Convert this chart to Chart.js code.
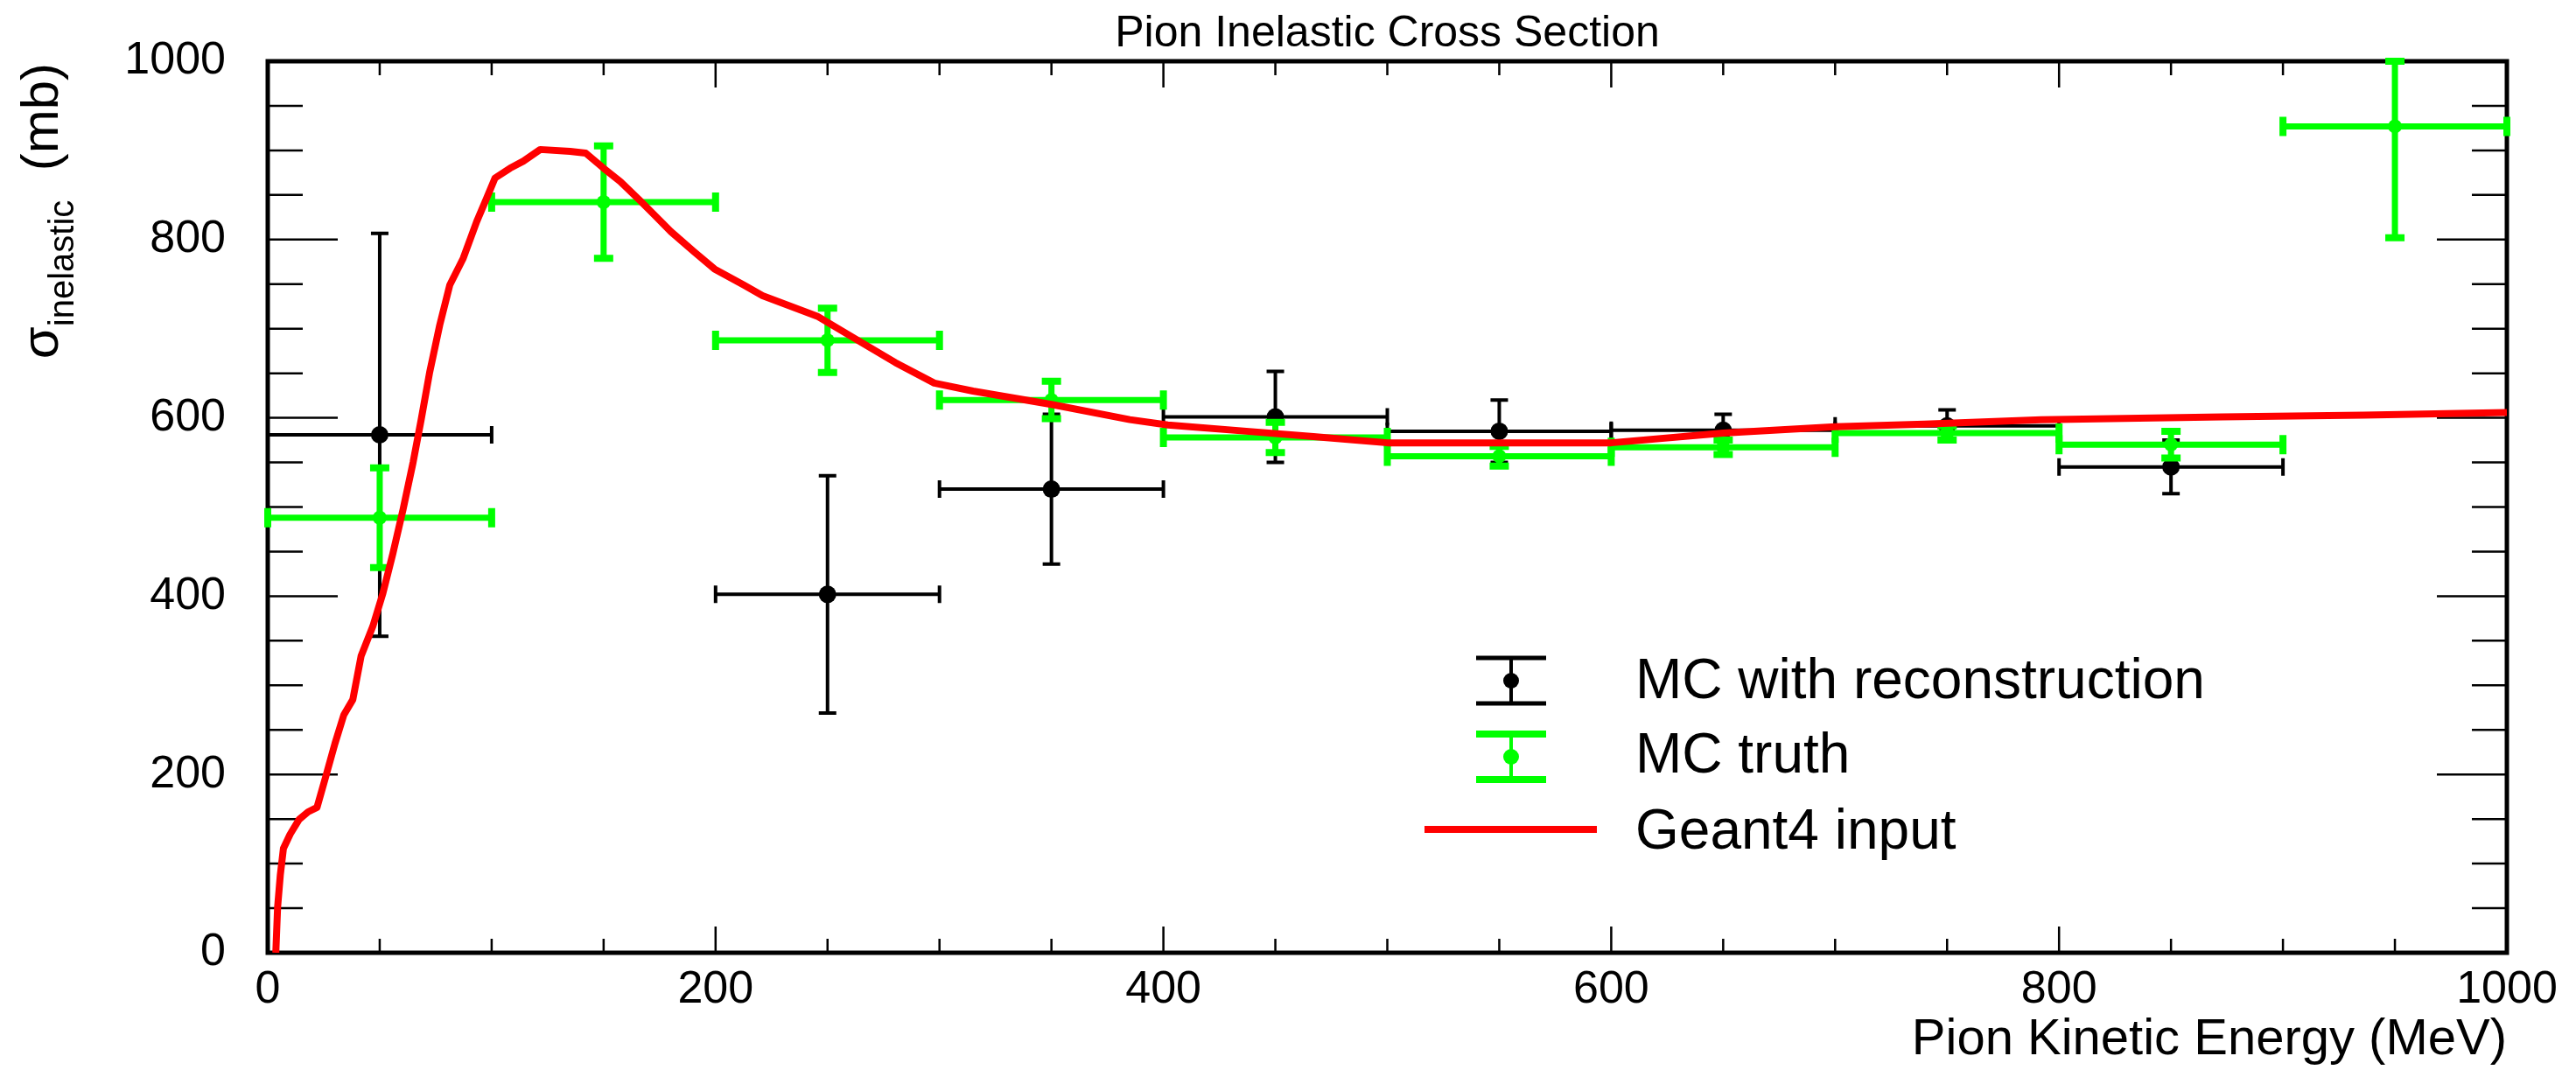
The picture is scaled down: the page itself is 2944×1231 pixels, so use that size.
<!DOCTYPE html>
<html><head><meta charset="utf-8">
<script src="https://cdn.jsdelivr.net/npm/chart.js@4.4.1/dist/chart.umd.min.js"></script>
<style>html,body{margin:0;padding:0;background:#fff;overflow:hidden;} #wrap{width:2944px;height:1231px;}</style>
</head><body><div id="wrap"><canvas id="c" width="2944" height="1231"></canvas></div>
<script>
// ---------- data ----------
const binCenters = [50, 150, 250, 350, 450, 550, 650, 750, 850, 950];
const binHalfWidths = [50, 50, 50, 50, 50, 50, 50, 50, 50, 50];
const recoValues = [581, null, 402, 520, 601, 585, 586, 591, 545, null];
const recoErrors = [226, null, 133, 84, 51, 35, 18, 18, 30, null];
const truthValues = [488, 842, 687, 620, 578, 557, 567, 583, 570, 927];
const truthErrors = [56, 63, 36, 21, 17, 11, 8, 8, 15, 125];
const geantEnergy = [3.6, 4.4, 5.6, 7, 10, 14, 18, 22, 26, 30, 34, 38, 41.7, 46.9, 51.4, 55.9, 60.4, 64.9, 68.6, 72.3, 76.8, 81.3, 87.3, 93.3, 97.7, 101.5, 108.2, 114.2, 121.7, 135, 142, 150, 157.5, 166.5, 172.5, 180, 190.5, 199.5, 212.6, 221, 245.4, 262.8, 280.3, 297.7, 315, 350, 385, 402, 437, 467, 500, 600, 650, 700, 740, 792, 873, 936, 1000];
const geantXsec = [0, 51, 87, 117, 133, 149.5, 158, 163, 198.5, 234.5, 267, 284, 333, 366, 403, 448, 497, 550, 599, 651, 704, 749, 779, 820, 846, 869, 880, 888, 901, 899, 897, 880, 865, 843, 828, 809, 786, 767, 749, 737, 714, 688, 662, 639, 630, 615, 598, 592, 585, 579, 572, 572, 583, 590, 593, 598, 601, 603, 606];
const xTickLabels = [0, 200, 400, 600, 800, 1000];
const yTickLabels = [0, 200, 400, 600, 800, 1000];
const titleText = "Pion Inelastic Cross Section";
const xTitleText = "Pion Kinetic Energy (MeV)";
const seriesNames = ["Geant4 input", "MC truth", "MC with reconstruction"];

const FONT = "'Liberation Sans', Arial, Helvetica, sans-serif";
const GREEN = '#00ff00', RED = '#ff0000', BLACK = '#000000';

const errorSets = {
  1: {vals: truthValues, errs: truthErrors, color: GREEN, lw: 7, cap: 11, capLw: 8},
  2: {vals: recoValues, errs: recoErrors, color: BLACK, lw: 4, cap: 10, capLw: 4}
};

function drawErrors(chart, set) {
  const ctx = chart.ctx, xs = chart.scales.x, ys = chart.scales.y;
  ctx.save();
  ctx.strokeStyle = set.color;
  ctx.lineCap = 'butt';
  for (let i = 0; i < binCenters.length; i++) {
    const v = set.vals[i];
    if (v === null) continue;
    const e = set.errs[i];
    const px = xs.getPixelForValue(binCenters[i]);
    const py = ys.getPixelForValue(v);
    const pl = xs.getPixelForValue(Math.max(binCenters[i] - binHalfWidths[i], xs.min));
    const pr = xs.getPixelForValue(Math.min(binCenters[i] + binHalfWidths[i], xs.max));
    const pt = ys.getPixelForValue(Math.min(v + e, ys.max));
    const pb = ys.getPixelForValue(Math.max(v - e, ys.min));
    ctx.lineWidth = set.lw;
    ctx.beginPath();
    ctx.moveTo(pl, py); ctx.lineTo(pr, py);
    ctx.moveTo(px, pt); ctx.lineTo(px, pb);
    ctx.stroke();
    ctx.lineWidth = set.capLw;
    ctx.beginPath();
    ctx.moveTo(pl, py - set.cap); ctx.lineTo(pl, py + set.cap);
    ctx.moveTo(pr, py - set.cap); ctx.lineTo(pr, py + set.cap);
    ctx.moveTo(px - set.cap, pt); ctx.lineTo(px + set.cap, pt);
    ctx.moveTo(px - set.cap, pb); ctx.lineTo(px + set.cap, pb);
    ctx.stroke();
  }
  ctx.restore();
}

const rootPlugin = {
  id: 'rootStyle',
  beforeDatasetsDraw(chart) {
    const ctx = chart.ctx, ca = chart.chartArea, xs = chart.scales.x, ys = chart.scales.y;
    ctx.save();
    ctx.strokeStyle = BLACK;
    ctx.lineWidth = 2.5;
    ctx.beginPath();
    for (let v = xs.min; v <= xs.max + 0.001; v += 50) {
      const p = xs.getPixelForValue(v);
      const len = (Math.round(v) % 200 === 0) ? 30 : 16;
      ctx.moveTo(p, ca.bottom); ctx.lineTo(p, ca.bottom - len);
      ctx.moveTo(p, ca.top); ctx.lineTo(p, ca.top + len);
    }
    for (let v = ys.min; v <= ys.max + 0.001; v += 50) {
      const p = ys.getPixelForValue(v);
      const len = (Math.round(v) % 200 === 0) ? 80 : 40;
      ctx.moveTo(ca.left, p); ctx.lineTo(ca.left + len, p);
      ctx.moveTo(ca.right, p); ctx.lineTo(ca.right - len, p);
    }
    ctx.stroke();
    ctx.lineWidth = 5;
    ctx.strokeRect(ca.left, ca.top, ca.right - ca.left, ca.bottom - ca.top);
    ctx.restore();
  },
  beforeDatasetDraw(chart, args) {
    const set = errorSets[args.index];
    if (set) drawErrors(chart, set);
  },
  afterDraw(chart) {
    const ctx = chart.ctx, ca = chart.chartArea;
    ctx.save();
    ctx.fillStyle = BLACK;
    ctx.font = `50px ${FONT}`;
    ctx.textAlign = 'center';
    ctx.textBaseline = 'alphabetic';
    ctx.fillText(titleText, (ca.left + ca.right) / 2, 53);
    ctx.font = `58px ${FONT}`;
    ctx.textAlign = 'right';
    ctx.fillText(xTitleText, ca.right, 1205);
    ctx.save();
    ctx.translate(66, ca.top + 2);
    ctx.rotate(-Math.PI / 2);
    ctx.textAlign = 'left';
    const mainF = `60px ${FONT}`, subF = `40px ${FONT}`;
    ctx.font = mainF; const wS = ctx.measureText('σ').width;
    ctx.font = subF; const wSub = ctx.measureText('inelastic').width;
    ctx.font = mainF; const wR = ctx.measureText('  (mb)').width;
    let x0 = -(wS + wSub + wR);
    ctx.font = mainF; ctx.fillText('σ', x0, 0);
    ctx.font = subF; ctx.fillText('inelastic', x0 + wS, 18);
    ctx.font = mainF; ctx.fillText('  (mb)', x0 + wS + wSub, 0);
    ctx.restore();
    const ds = chart.data.datasets;
    const rows = [
      {d: ds[2], set: errorSets[2], cy: 778, base: 798, r: 9, capY: [752, 804]},
      {d: ds[1], set: errorSets[1], cy: 865, base: 883, r: 9, capY: [839, 891]},
      {d: ds[0], line: true, cy: 948, base: 970}
    ];
    const sx = 1727;
    rows.forEach(row => {
      if (row.line) {
        ctx.strokeStyle = RED; ctx.lineWidth = 8;
        ctx.beginPath(); ctx.moveTo(1628, row.cy); ctx.lineTo(1825, row.cy); ctx.stroke();
      } else {
        ctx.strokeStyle = row.set.color; ctx.fillStyle = row.set.color;
        ctx.lineWidth = 4;
        ctx.beginPath(); ctx.moveTo(sx, row.capY[0]); ctx.lineTo(sx, row.capY[1]); ctx.stroke();
        ctx.lineWidth = row.set.capLw === 8 ? 8 : 5;
        ctx.beginPath();
        ctx.moveTo(sx - 40, row.capY[0]); ctx.lineTo(sx + 40, row.capY[0]);
        ctx.moveTo(sx - 40, row.capY[1]); ctx.lineTo(sx + 40, row.capY[1]);
        ctx.stroke();
        ctx.beginPath(); ctx.arc(sx, row.cy, row.r, 0, Math.PI * 2); ctx.fill();
      }
      ctx.fillStyle = BLACK;
      ctx.font = `64px ${FONT}`;
      ctx.textAlign = 'left';
      ctx.fillText(row.d.label, 1869, row.base);
    });
    ctx.restore();
  }
};

const geantData = geantEnergy.map((x, i) => ({x: x, y: geantXsec[i]}));
const truthData = binCenters.map((x, i) => ({x: x, y: truthValues[i]})).filter(p => p.y !== null);
const recoData = binCenters.map((x, i) => ({x: x, y: recoValues[i]})).filter(p => p.y !== null);

function zeroPad(s) { s.paddingTop = 0; s.paddingBottom = 0; s.paddingLeft = 0; s.paddingRight = 0; }

new Chart(document.getElementById('c'), {
  type: 'scatter',
  data: {
    datasets: [
      {label: seriesNames[0], data: geantData, showLine: true, borderColor: RED, backgroundColor: RED, borderWidth: 8, pointRadius: 0, tension: 0, borderJoinStyle: 'round', clip: 0},
      {label: seriesNames[1], data: truthData, showLine: false, pointRadius: 8, pointStyle: 'circle', backgroundColor: GREEN, borderColor: GREEN, borderWidth: 0},
      {label: seriesNames[2], data: recoData, showLine: false, pointRadius: 10, pointStyle: 'circle', backgroundColor: BLACK, borderColor: BLACK, borderWidth: 0}
    ]
  },
  options: {
    responsive: false,
    animation: false,
    devicePixelRatio: 1,
    layout: {padding: {left: 0, right: 79, top: 70, bottom: 0}},
    plugins: {legend: {display: false}, tooltip: {enabled: false}, title: {display: false}},
    events: [],
    scales: {
      x: {
        type: 'linear', min: 0, max: 1000,
        afterBuildTicks: s => { s.ticks = xTickLabels.map(v => ({value: v})); },
        ticks: {font: {family: FONT, size: 52}, color: BLACK, padding: 11, maxRotation: 0, autoSkip: false, callback: v => String(v)},
        grid: {display: false, drawTicks: false},
        border: {display: false},
        afterFit: s => { s.height = 142; zeroPad(s); }
      },
      y: {
        type: 'linear', min: 0, max: 1000,
        afterBuildTicks: s => { s.ticks = yTickLabels.map(v => ({value: v})); },
        ticks: {font: {family: FONT, size: 52}, color: BLACK, padding: 48, autoSkip: false, callback: v => String(v)},
        grid: {display: false, drawTicks: false},
        border: {display: false},
        afterFit: s => { s.width = 306; zeroPad(s); }
      }
    }
  },
  plugins: [rootPlugin]
});
</script>
</body></html>
